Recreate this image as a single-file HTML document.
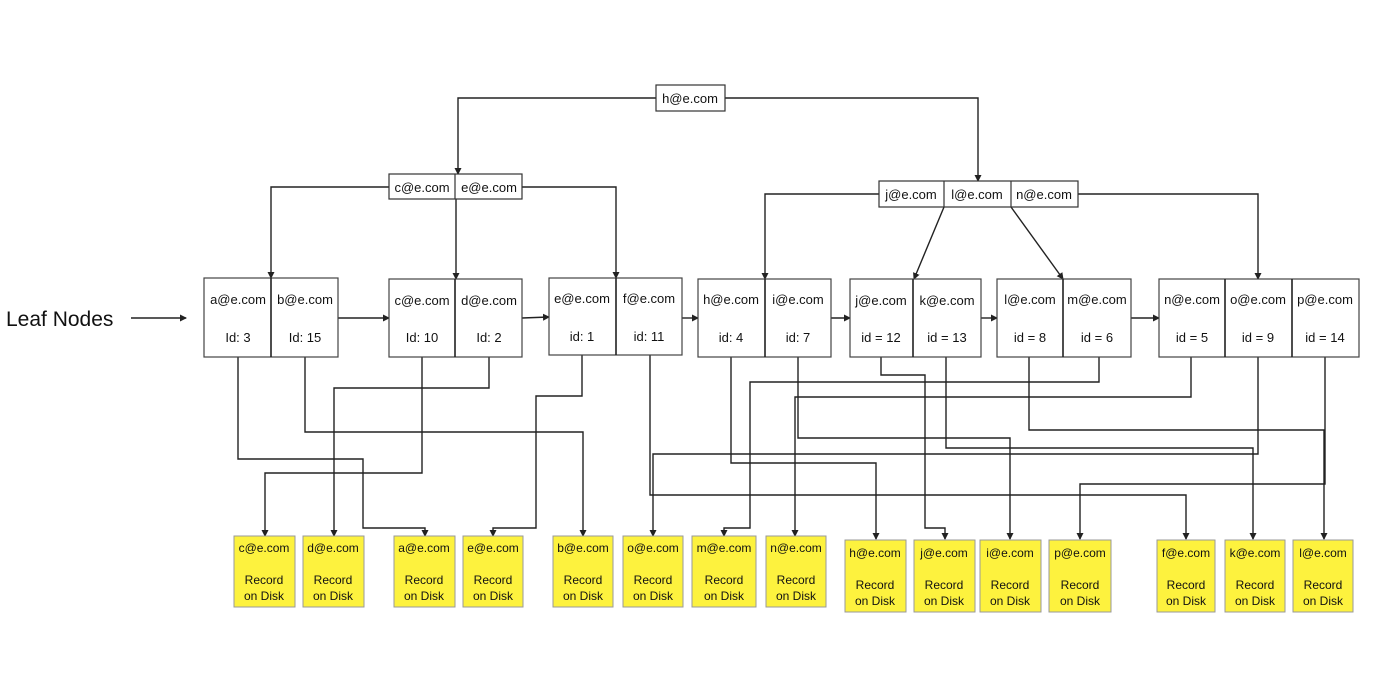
<!DOCTYPE html>
<html><head><meta charset="utf-8"><style>
html,body{margin:0;padding:0;background:#fff}
svg{display:block}
text{font-family:"Liberation Sans",sans-serif;fill:#111}
</style></head><body>
<svg width="1400" height="676" viewBox="0 0 1400 676" xmlns="http://www.w3.org/2000/svg">
<defs><marker id="a" markerWidth="8" markerHeight="8" refX="6" refY="4" orient="auto" markerUnits="userSpaceOnUse"><path d="M0,0.5 L7,4 L0,7.5 z" fill="#222"/></marker></defs>
<g fill="none" stroke="#222" stroke-width="1.4">
<!-- root connectors -->
<polyline points="656,98 458,98 458,174" marker-end="url(#a)"/>
<polyline points="725,98 978,98 978,181" marker-end="url(#a)"/>
<polyline points="389,187 271,187 271,278" marker-end="url(#a)"/>
<polyline points="456,199 456,279" marker-end="url(#a)"/>
<polyline points="522,187 616,187 616,278" marker-end="url(#a)"/>
<polyline points="879,194 765,194 765,279" marker-end="url(#a)"/>
<polyline points="944,207 914,279" marker-end="url(#a)"/>
<polyline points="1011,207 1063,279" marker-end="url(#a)"/>
<polyline points="1078,194 1258,194 1258,279" marker-end="url(#a)"/>
<!-- leaf links -->
<polyline points="338,318 389,318" marker-end="url(#a)"/>
<polyline points="522,318 549,317" marker-end="url(#a)"/>
<polyline points="682,318 698,318" marker-end="url(#a)"/>
<polyline points="831,318 850,318" marker-end="url(#a)"/>
<polyline points="981,318 997,318" marker-end="url(#a)"/>
<polyline points="1131,318 1159,318" marker-end="url(#a)"/>
<polyline points="131,318 186,318" marker-end="url(#a)"/>
<!-- record pointers -->
<polyline points="238,357 238,459 363,459 363,528 425,528 425,536" marker-end="url(#a)"/>
<polyline points="305,357 305,432 583,432 583,536" marker-end="url(#a)"/>
<polyline points="422,357 422,473 265,473 265,536" marker-end="url(#a)"/>
<polyline points="489,357 489,388 334,388 334,536" marker-end="url(#a)"/>
<polyline points="582,355 582,396 536,396 536,528 493,528 493,536" marker-end="url(#a)"/>
<polyline points="650,355 650,495 1186,495 1186,539" marker-end="url(#a)"/>
<polyline points="1258,357 1258,454 653,454 653,536" marker-end="url(#a)"/>
<polyline points="731,357 731,463 876,463 876,539" marker-end="url(#a)"/>
<polyline points="798,357 798,438 1010,438 1010,539" marker-end="url(#a)"/>
<polyline points="881,357 881,375 925,375 925,528 945,528 945,539" marker-end="url(#a)"/>
<polyline points="946,357 946,448 1253,448 1253,539" marker-end="url(#a)"/>
<polyline points="1029,357 1029,430 1324,430 1324,539" marker-end="url(#a)"/>
<polyline points="1099,357 1099,382 750,382 750,528 724,528 724,536" marker-end="url(#a)"/>
<polyline points="1191,357 1191,397 795,397 795,536" marker-end="url(#a)"/>
<polyline points="1325,357 1325,484 1080,484 1080,539" marker-end="url(#a)"/>
</g>
<!-- internal nodes -->
<g fill="#fff" stroke="#333" stroke-width="1.2">
<rect x="656" y="85" width="69" height="26"/>
<rect x="389" y="174" width="133" height="25"/><line x1="455" y1="174" x2="455" y2="199"/>
<rect x="879" y="181" width="199" height="26"/><line x1="944" y1="181" x2="944" y2="207"/><line x1="1011" y1="181" x2="1011" y2="207"/>
</g>
<g font-size="13" text-anchor="middle">
<text x="690" y="103">h@e.com</text>
<text x="422" y="192">c@e.com</text><text x="489" y="192">e@e.com</text>
<text x="911" y="199">j@e.com</text><text x="977" y="199">l@e.com</text><text x="1044" y="199">n@e.com</text>
</g>
<!-- leaf nodes -->
<g fill="#fff" stroke="#444" stroke-width="1.2">
<rect x="204" y="278" width="134" height="79"/><line x1="271" y1="278" x2="271" y2="357" stroke="#222" stroke-width="1.6"/>
<rect x="389" y="279" width="133" height="78"/><line x1="455" y1="279" x2="455" y2="357" stroke="#222" stroke-width="1.6"/>
<rect x="549" y="278" width="133" height="77"/><line x1="616" y1="278" x2="616" y2="355" stroke="#222" stroke-width="1.6"/>
<rect x="698" y="279" width="133" height="78"/><line x1="765" y1="279" x2="765" y2="357" stroke="#222" stroke-width="1.6"/>
<rect x="850" y="279" width="131" height="78"/><line x1="913" y1="279" x2="913" y2="357" stroke="#222" stroke-width="1.6"/>
<rect x="997" y="279" width="134" height="78"/><line x1="1063" y1="279" x2="1063" y2="357" stroke="#222" stroke-width="1.6"/>
<rect x="1159" y="279" width="200" height="78"/><line x1="1225" y1="279" x2="1225" y2="357" stroke="#222" stroke-width="1.6"/><line x1="1292" y1="279" x2="1292" y2="357" stroke="#222" stroke-width="1.6"/>
</g>
<g font-size="13" text-anchor="middle">
<text x="238" y="304">a@e.com</text><text x="238" y="342">Id: 3</text>
<text x="305" y="304">b@e.com</text><text x="305" y="342">Id: 15</text>
<text x="422" y="305">c@e.com</text><text x="422" y="342">Id: 10</text>
<text x="489" y="305">d@e.com</text><text x="489" y="342">Id: 2</text>
<text x="582" y="303">e@e.com</text><text x="582" y="341">id: 1</text>
<text x="649" y="303">f@e.com</text><text x="649" y="341">id: 11</text>
<text x="731" y="304">h@e.com</text><text x="731" y="342">id: 4</text>
<text x="798" y="304">i@e.com</text><text x="798" y="342">id: 7</text>
<text x="881" y="305">j@e.com</text><text x="881" y="342">id = 12</text>
<text x="947" y="305">k@e.com</text><text x="947" y="342">id = 13</text>
<text x="1030" y="304">l@e.com</text><text x="1030" y="342">id = 8</text>
<text x="1097" y="304">m@e.com</text><text x="1097" y="342">id = 6</text>
<text x="1192" y="304">n@e.com</text><text x="1192" y="342">id = 5</text>
<text x="1258" y="304">o@e.com</text><text x="1258" y="342">id = 9</text>
<text x="1325" y="304">p@e.com</text><text x="1325" y="342">id = 14</text>
</g>
<text x="6" y="326" font-size="21">Leaf Nodes</text>
<!-- records -->
<g fill="#fdf23e" stroke="#999" stroke-width="1">
<rect x="234" y="536" width="61" height="71"/>
<rect x="303" y="536" width="61" height="71"/>
<rect x="394" y="536" width="61" height="71"/>
<rect x="463" y="536" width="60" height="71"/>
<rect x="553" y="536" width="60" height="71"/>
<rect x="623" y="536" width="60" height="71"/>
<rect x="692" y="536" width="64" height="71"/>
<rect x="766" y="536" width="60" height="71"/>
<rect x="845" y="540" width="61" height="72"/>
<rect x="914" y="540" width="61" height="72"/>
<rect x="980" y="540" width="61" height="72"/>
<rect x="1049" y="540" width="62" height="72"/>
<rect x="1157" y="540" width="58" height="72"/>
<rect x="1225" y="540" width="60" height="72"/>
<rect x="1293" y="540" width="60" height="72"/>
</g>
<g font-size="12" text-anchor="middle">
<text x="264" y="552">c@e.com</text><text x="264" y="584">Record</text><text x="264" y="600">on Disk</text>
<text x="333" y="552">d@e.com</text><text x="333" y="584">Record</text><text x="333" y="600">on Disk</text>
<text x="424" y="552">a@e.com</text><text x="424" y="584">Record</text><text x="424" y="600">on Disk</text>
<text x="493" y="552">e@e.com</text><text x="493" y="584">Record</text><text x="493" y="600">on Disk</text>
<text x="583" y="552">b@e.com</text><text x="583" y="584">Record</text><text x="583" y="600">on Disk</text>
<text x="653" y="552">o@e.com</text><text x="653" y="584">Record</text><text x="653" y="600">on Disk</text>
<text x="724" y="552">m@e.com</text><text x="724" y="584">Record</text><text x="724" y="600">on Disk</text>
<text x="796" y="552">n@e.com</text><text x="796" y="584">Record</text><text x="796" y="600">on Disk</text>
<text x="875" y="557">h@e.com</text><text x="875" y="589">Record</text><text x="875" y="605">on Disk</text>
<text x="944" y="557">j@e.com</text><text x="944" y="589">Record</text><text x="944" y="605">on Disk</text>
<text x="1010" y="557">i@e.com</text><text x="1010" y="589">Record</text><text x="1010" y="605">on Disk</text>
<text x="1080" y="557">p@e.com</text><text x="1080" y="589">Record</text><text x="1080" y="605">on Disk</text>
<text x="1186" y="557">f@e.com</text><text x="1186" y="589">Record</text><text x="1186" y="605">on Disk</text>
<text x="1255" y="557">k@e.com</text><text x="1255" y="589">Record</text><text x="1255" y="605">on Disk</text>
<text x="1323" y="557">l@e.com</text><text x="1323" y="589">Record</text><text x="1323" y="605">on Disk</text>
</g>
</svg>
</body></html>
